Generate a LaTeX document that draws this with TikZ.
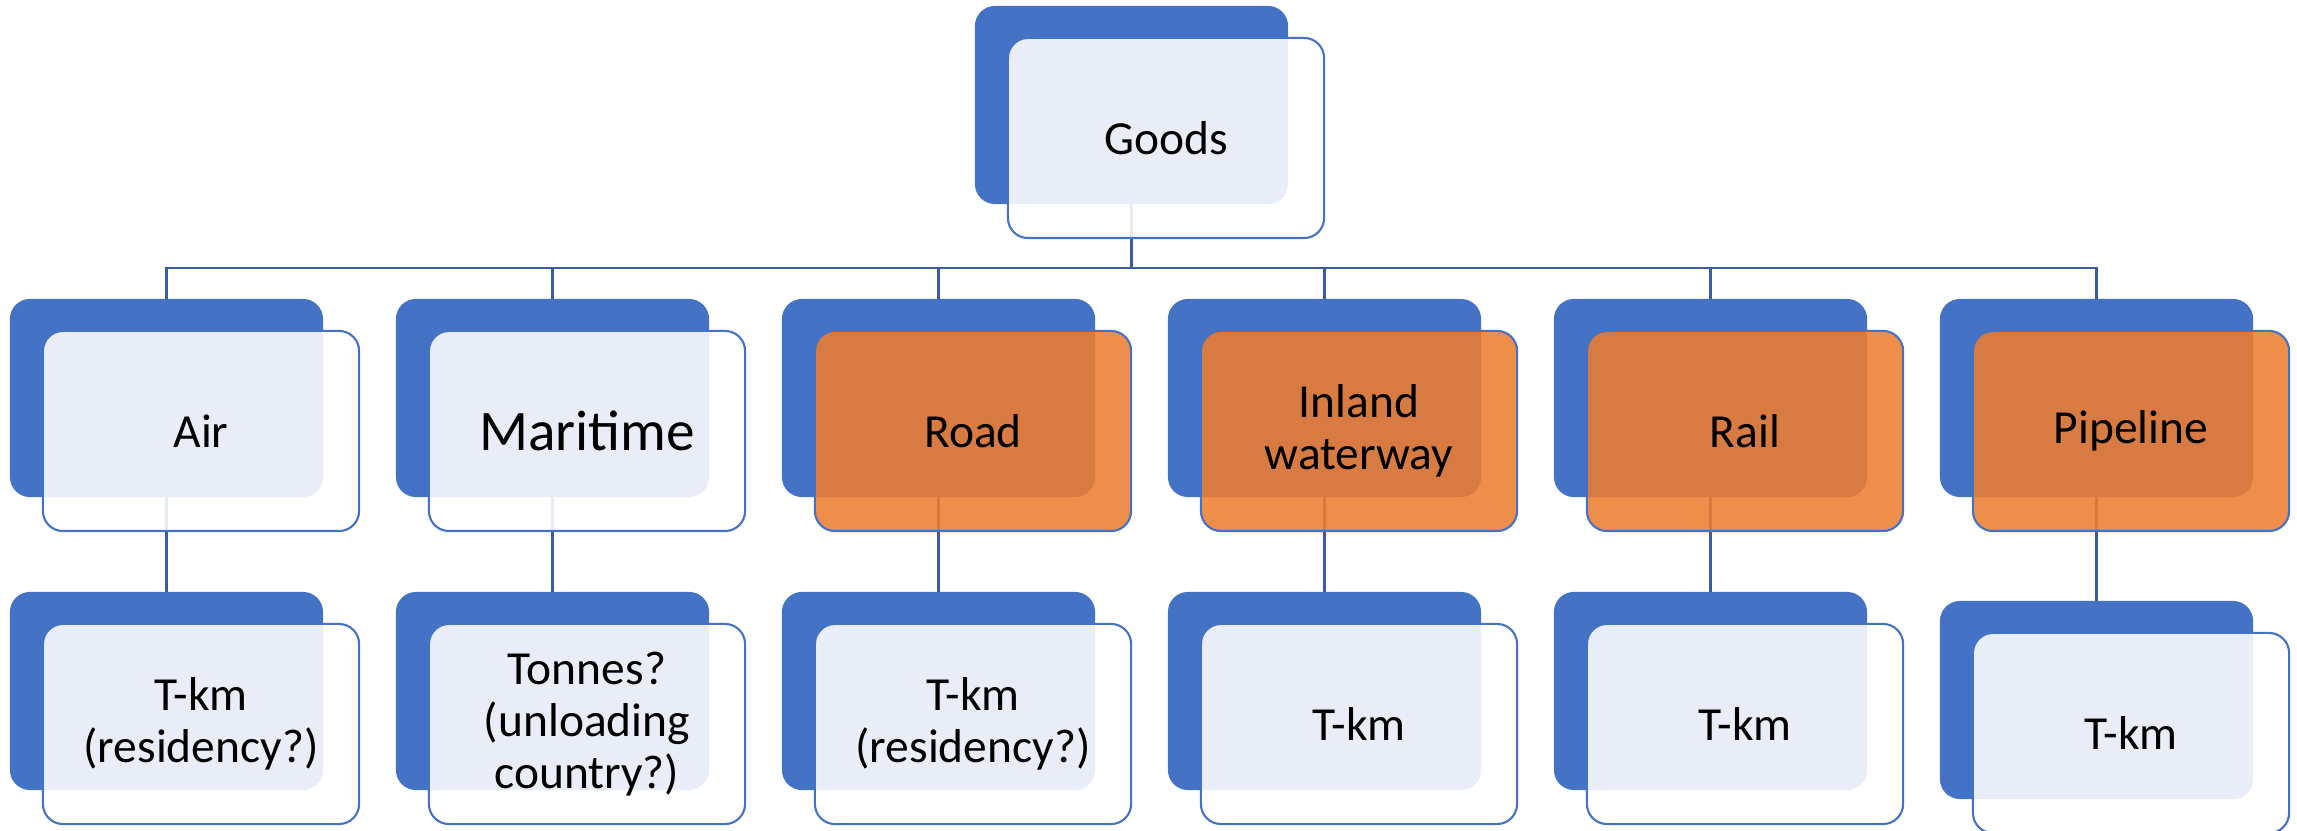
\documentclass[tikz,border=0pt]{standalone}
\usepackage{fontspec}
\setmainfont{Carlito}
\usepackage{tikz}
\usetikzlibrary{positioning,calc}
\definecolor{TileBlue}{HTML}{4472C4}
\definecolor{TileOrange}{HTML}{ED7D31}
\definecolor{LinkBlue}{HTML}{3A5DA0}
\tikzset{
  BK/.style={rectangle,rounded corners=5.7pt,outer sep=0pt,
             minimum width=3.13cm,minimum height=1.98cm,
             fill=TileBlue,draw=none},
  FB/.style={rectangle,rounded corners=5.7pt,outer sep=0pt,
             minimum width=3.16cm,minimum height=2.0cm,
             text centered,align=center,draw=TileBlue,line width=0.6pt,
             font=\fontsize{13.5}{14.8}\selectfont},
  FW/.style={FB,fill=white,fill opacity=0.88,text opacity=1},
  FO/.style={FB,fill=TileOrange,fill opacity=0.88,text opacity=1},
  ln/.style={draw=LinkBlue,line width=0.77pt}
}

\begin{document}
\begin{tikzpicture}[x=0.01cm,y=-0.01cm]
  \useasboundingbox (0,0) rectangle (2297,831);
  \coordinate (bus) at (0,268);
  % back tiles
  \node[BK] (goodsB) at (1131.5,105) {};
  \node[BK] (airB) at (166.5,398) {};
  \node[BK] (marB) at (552.5,398) {};
  \node[BK] (roadB) at (938.5,398) {};
  \node[BK] (inlB) at (1324.5,398) {};
  \node[BK] (railB) at (1710.5,398) {};
  \node[BK] (pipeB) at (2096.5,398) {};
  \node[BK] (airmB) at (166.5,691) {};
  \node[BK] (marmB) at (552.5,691) {};
  \node[BK] (roadmB) at (938.5,691) {};
  \node[BK] (inlmB) at (1324.5,691) {};
  \node[BK] (railmB) at (1710.5,691) {};
  \node[BK] (pipemB) at (2096.5,700) {};

  % links
  \draw[ln] (goodsB.south) -- (goodsB.south |- bus) -| (airB.north);
  \draw[ln] (goodsB.south |- bus) -| (marB.north);
  \draw[ln] (goodsB.south |- bus) -| (roadB.north);
  \draw[ln] (goodsB.south |- bus) -| (inlB.north);
  \draw[ln] (goodsB.south |- bus) -| (railB.north);
  \draw[ln] (goodsB.south |- bus) -| (pipeB.north);
  \draw[ln] (airB) -- (airmB);
  \draw[ln] (marB) -- (marmB);
  \draw[ln] (roadB) -- (roadmB);
  \draw[ln] (inlB) -- (inlmB);
  \draw[ln] (railB) -- (railmB);
  \draw[ln] (pipeB) -- (pipemB);

  % front tiles
  \node[FW] (goods) at (1166,138) {Goods};
  \node[FW] (air) at (201,431) {Air};
  \node[FW,font=\fontsize{16.3}{18}\selectfont] (mar) at (587,431) {Maritime};
  \node[FO] (road) at (973,431) {Road};
  \node[FO] (inl) at (1359,431) {Inland\\waterway};
  \node[FO] (rail) at (1745,431) {Rail};
  \node[FO] (pipe) at (2131,431) {Pipeline};
  \node[FW] (airm) at (201,724) {T-km\\(residency?)};
  \node[FW] (marm) at (587,724) {Tonnes?\\(unloading\\country?)};
  \node[FW] (roadm) at (973,724) {T-km\\(residency?)};
  \node[FW] (inlm) at (1359,724) {T-km};
  \node[FW] (railm) at (1745,724) {T-km};
  \node[FW] (pipem) at (2131,733) {T-km};
\end{tikzpicture}
\end{document}
